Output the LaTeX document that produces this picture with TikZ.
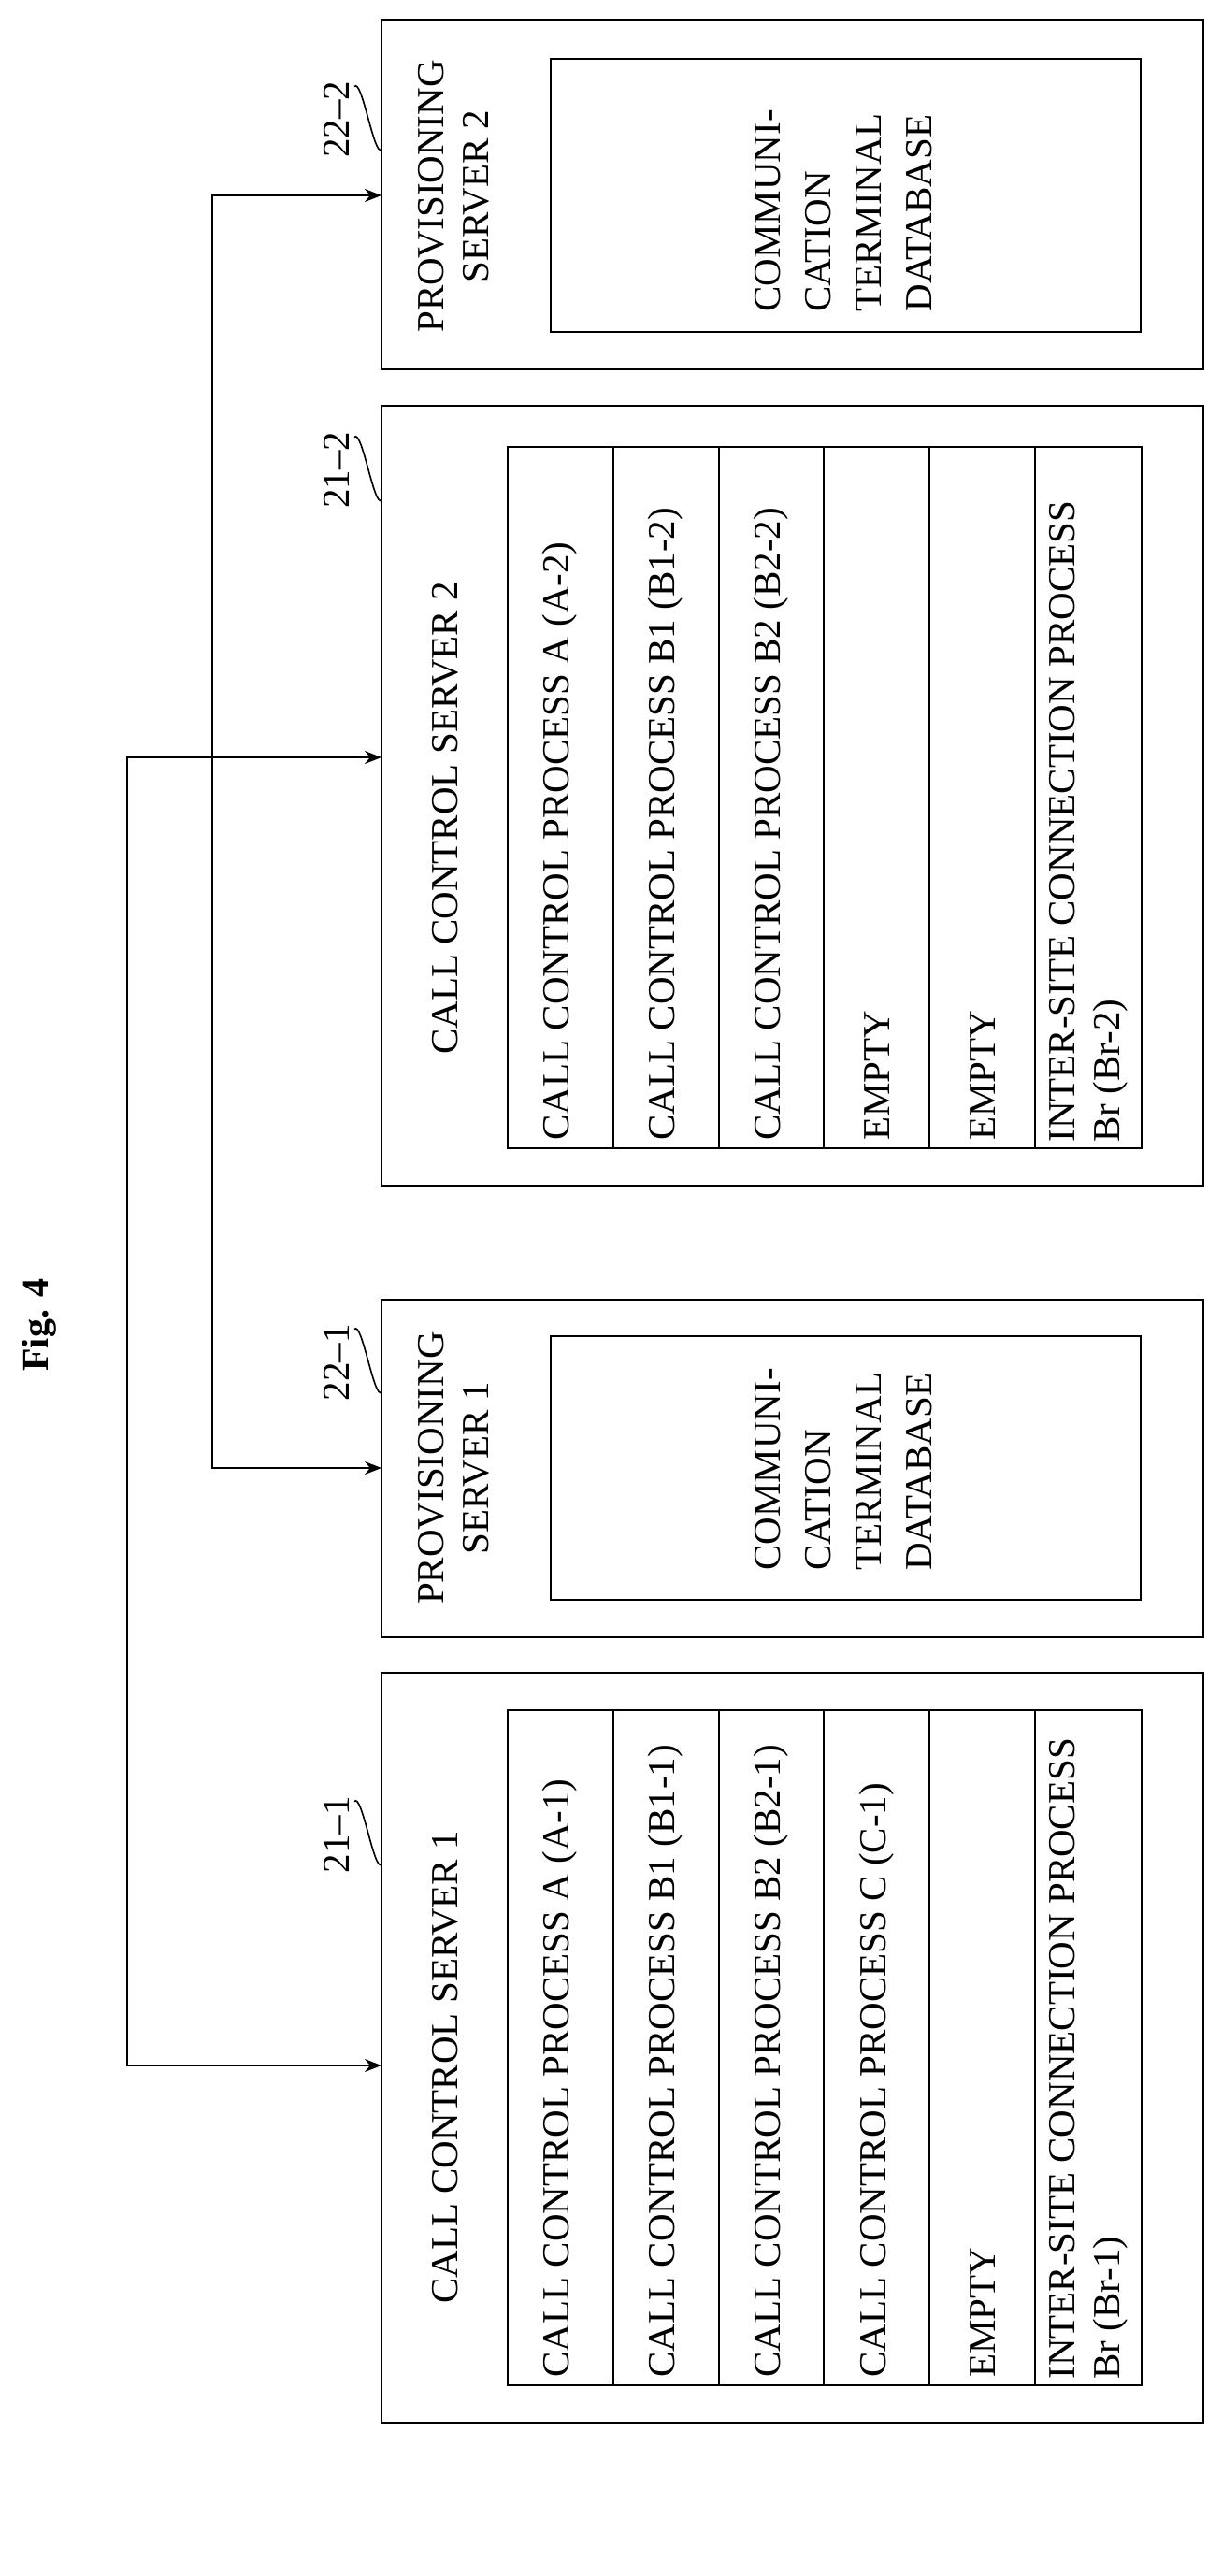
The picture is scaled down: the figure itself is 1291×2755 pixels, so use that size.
\documentclass[tikz,border=0pt]{standalone}
\usepackage{fontspec}
\setmainfont{Liberation Serif}
\usetikzlibrary{arrows.meta}
\begin{document}
\begin{tikzpicture}[x=0.5pt,y=-0.5pt,
  box/.style={draw,line width=1.2pt},
  txt/.style={rotate=90,font=\fontsize{20.5}{24}\selectfont,inner sep=0pt},
  row/.style={txt,anchor=west},
  conn/.style={line width=1.2pt,{Stealth[length=9pt,width=7pt]}-{Stealth[length=9pt,width=7pt]}}]
\useasboundingbox (0,0) rectangle (1291,2755);
% boxes
\draw[box] (408,21) rectangle (1287,395);
\draw[box] (589,63) rectangle (1220,355);
\draw[box] (408,434) rectangle (1287,1268);
\draw[box] (408,1390) rectangle (1287,1751);
\draw[box] (589,1429) rectangle (1220,1711);
\draw[box] (408,1789) rectangle (1287,2591);
\foreach \a/\b in {543/656,656/769,769/881,881/994,994/1107,1107/1221}{
  \draw[box] (\a,478) rectangle (\b,1228);
  \draw[box] (\a,1829) rectangle (\b,2551);
}
% titles
\node[txt,font=\bfseries\fontsize{20}{24}\selectfont] (fig) at (42,1417) {Fig. 4};
\node[txt] (ps2) at (485,210) [align=center] {PROVISIONING\\SERVER 2};
\node[txt] (ccs2) at (476,875) {CALL CONTROL SERVER 2};
\node[txt] (ps1) at (485,1570) [align=center] {PROVISIONING\\SERVER 1};
\node[txt] (ccs1) at (476,2211) {CALL CONTROL SERVER 1};
\node[txt,anchor=west,align=left,font=\fontsize{20.5}{27}\selectfont] (db2) at (902,334) {COMMUNI-\\CATION\\TERMINAL\\DATABASE};
\node[txt,anchor=west,align=left,font=\fontsize{20.5}{27}\selectfont] (db1) at (902,1680) {COMMUNI-\\CATION\\TERMINAL\\DATABASE};
% rows server 2
\node[row] (r21) at (599,1220) {CALL CONTROL PROCESS A (A-2)};
\node[row] (r22) at (712,1220) {CALL CONTROL PROCESS B1 (B1-2)};
\node[row] (r23) at (825,1220) {CALL CONTROL PROCESS B2 (B2-2)};
\node[row] (r24) at (938,1220) {EMPTY};
\node[row] (r25) at (1051,1220) {EMPTY};
\node[row,align=left] (r26) at (1164,1222) {INTER-SITE CONNECTION PROCESS\\Br (Br-2)};
% rows server 1
\node[row] (r11) at (599,2543) {CALL CONTROL PROCESS A (A-1)};
\node[row] (r12) at (712,2543) {CALL CONTROL PROCESS B1 (B1-1)};
\node[row] (r13) at (825,2543) {CALL CONTROL PROCESS B2 (B2-1)};
\node[row] (r14) at (938,2543) {CALL CONTROL PROCESS C (C-1)};
\node[row] (r15) at (1051,2543) {EMPTY};
\node[row,align=left] (r16) at (1164,2545) {INTER-SITE CONNECTION PROCESS\\Br (Br-1)};
% reference labels
\node[txt] (l222) at (360,128) {22--2};
\node[txt] (l212) at (360,503) {21--2};
\node[txt] (l221) at (360,1457) {22--1};
\node[txt] (l211) at (360,1962) {21--1};
\foreach \n/\y in {l222/160,l212/535,l221/1489,l211/1994}{
  \draw[line width=0.8pt] (\n.south east) ++(5,6) .. controls +(8,-10) and +(-8,8) .. (408,\y);
}
% connectors
\coordinate (a1) at (408,2209);
\coordinate (a2) at (408,810);
\coordinate (b1) at (408,1570);
\coordinate (b2) at (408,209);
\draw[conn] (a1) -- (136,2209) |- (a2);
\draw[conn] (b1) -- (227,1570) |- (b2);
\end{tikzpicture}
\end{document}
